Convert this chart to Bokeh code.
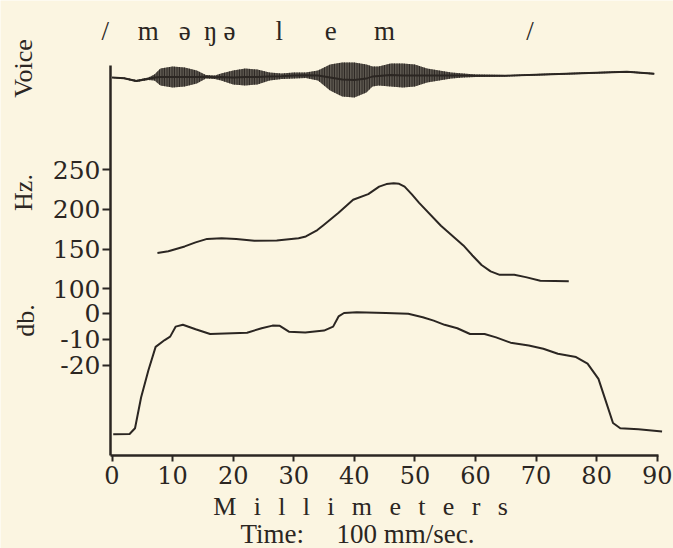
import math
from bokeh.plotting import figure
from bokeh.models import Range1d, LinearAxis, FixedTicker, ColumnDataSource
from bokeh.core.properties import value
from bokeh.embed import file_html
from bokeh.resources import INLINE

# ---------------- data ----------------
time_ticks = [0, 10, 20, 30, 40, 50, 60, 70, 80, 90]
hz_ticks = [100, 150, 200, 250]
db_ticks = [0, -10, -20]

phonemes = ["/", "m", "ə", "ŋ", "ə", "l", "e", "m", "/"]
phoneme_mm = [-1.1, 6.0, 12.0, 16.3, 19.4, 27.6, 36.1, 45.0, 69.0]

hz_mm = [7.5, 9.3, 12.0, 13.8, 15.7, 18.1, 20.5, 23.5, 27.2, 30.8, 32.0, 33.9,
         35.0, 37.4, 39.8, 42.3, 44.1, 45.3, 46.5, 47.4, 48.3, 49.5, 50.7, 54.3,
         58.0, 59.5, 61.0, 62.5, 64.0, 66.4, 68.3, 70.7, 75.4]
hz_val = [145.2, 147.3, 153.4, 158.5, 162.9, 163.8, 162.9, 160.5, 160.9, 163.8,
          166.0, 174.0, 180.7, 195.9, 212.3, 219.4, 228.8, 232.0, 233.0, 232.3,
          228.8, 219.0, 208.3, 179.4, 154.7, 142.0, 130.0, 122.0, 117.6, 117.6,
          114.7, 110.2, 109.5]

db_mm = [0.2, 2.9, 3.8, 4.8, 6.0, 7.2, 8.7, 9.6, 10.5, 11.7, 13.8, 16.2, 22.3,
         24.7, 26.5, 27.7, 29.2, 31.9, 35.0, 36.5, 37.4, 38.3, 40.4, 45.2, 48.9,
         51.3, 53.1, 54.9, 57.0, 59.1, 61.5, 63.4, 65.8, 68.8, 71.2, 73.6, 76.6,
         78.5, 80.3, 81.5, 82.7, 83.9, 86.9, 90.8]
db_val = [-46.2, -46.1, -43.9, -32.2, -21.9, -12.9, -10.3, -9.0, -5.2, -4.5,
          -6.2, -8.0, -7.5, -5.8, -4.8, -4.9, -7.1, -7.4, -6.7, -5.2, -1.3, 0.0,
          0.3, 0.0, -0.3, -1.6, -2.9, -4.5, -5.8, -8.0, -8.0, -9.3, -11.3, -12.4,
          -13.6, -15.5, -16.8, -19.3, -25.1, -33.5, -41.9, -43.9, -44.3, -45.1]

voice_mm = [0, 2, 4, 6, 7, 8, 10, 12, 14, 15.5, 17, 18, 20, 22, 24, 26, 28, 30,
            32, 34, 36, 38, 40, 42, 43, 44, 46, 48, 50, 52, 54, 56, 58, 60, 65,
            70, 75, 80, 85, 89.5]
voice_upper = [-0.5, -1, -3.5, -1, 2, 8, 10, 9, 6, 1.5, 1, 3, 6, 8, 7, 4, 3, 4,
               4, 6, 12, 14, 14, 12, 10, 10, 13, 13, 12, 8, 6, 4, 3, 2, 1.5, 2.5,
               3.5, 4.5, 5.5, 3.5]
voice_lower = [-1.5, -2.5, -5.5, -3.5, -4, -9, -11, -10, -7, -2, -2.5, -4, -8,
               -9, -8, -4, -2.5, -2, -1.5, -4, -14, -20, -21, -16, -10, -9, -10,
               -11, -10, -6, -4, -2, -1, -0.5, 0, 1, 2, 3, 4, 2]

# ---------------- layout / styling ----------------
W, H = 673, 548
AXIS_X_PX, AXIS_Y_PX, AXIS_TOP_PX = 110, 455, 65
X0_PX, PX_PER_MM = 111.5, 6.058
HZ_REF, HZ_REF_PX, PX_PER_HZ = 250, 169.3, 0.7933
DB0_PX, PX_PER_DB = 312.5, 2.625
VOICE0_PX = 76.0

INK = "#2b2622"
PAPER = "#fbf5e1"
SERIF = "Liberation Serif"
NUM_FONT = "DejaVu Serif"

def mm_at(px):
    return (px - X0_PX) / PX_PER_MM

def hz_at(py):
    return HZ_REF - (py - HZ_REF_PX) / PX_PER_HZ

def db_at(py):
    return -(py - DB0_PX) / PX_PER_DB

def voice_at(py):
    return VOICE0_PX - py

x_range = Range1d(mm_at(0), mm_at(W))
y_range = Range1d(hz_at(H), hz_at(0))

p = figure(width=W, height=H, x_range=x_range, y_range=y_range,
           output_backend="svg", toolbar_location=None,
           x_axis_type=None, y_axis_type=None,
           min_border_left=0, min_border_right=0,
           min_border_top=0, min_border_bottom=0)
p.background_fill_color = PAPER
p.border_fill_color = PAPER
p.outline_line_color = None

p.extra_y_ranges = {
    "db": Range1d(db_at(H), db_at(0)),
    "voice": Range1d(voice_at(H), voice_at(0)),
}

def db_to_hz(d):
    r = p.extra_y_ranges["db"]
    return round(y_range.start + (d - r.start) / (r.end - r.start) * (y_range.end - y_range.start), 4)

# ---------------- axes ----------------
xaxis = LinearAxis(ticker=FixedTicker(ticks=time_ticks, minor_ticks=[]),
                   bounds=(mm_at(AXIS_X_PX), 90.25),
                   fixed_location=hz_at(AXIS_Y_PX))
xaxis.axis_line_width = 2.5
xaxis.axis_line_color = INK
xaxis.major_tick_line_color = INK
xaxis.major_tick_line_width = 2
xaxis.major_tick_out = 6
xaxis.major_tick_in = 0
xaxis.major_label_standoff = 4
xaxis.major_label_text_font = NUM_FONT
xaxis.major_label_text_font_size = "24px"
xaxis.major_label_text_color = INK
p.add_layout(xaxis, "below")

db_pos = [db_to_hz(d) for d in db_ticks]
overrides = {float(t): str(t) for t in hz_ticks}
overrides.update({pos: str(d) for pos, d in zip(db_pos, db_ticks)})
yaxis = LinearAxis(ticker=FixedTicker(ticks=[float(t) for t in hz_ticks] + db_pos, minor_ticks=[]),
                   bounds=(hz_at(AXIS_Y_PX), hz_at(AXIS_TOP_PX)),
                   fixed_location=mm_at(AXIS_X_PX))
yaxis.major_label_overrides = overrides
yaxis.axis_line_width = 2.5
yaxis.axis_line_color = INK
yaxis.major_tick_line_color = INK
yaxis.major_tick_line_width = 2
yaxis.major_tick_out = 8
yaxis.major_tick_in = 0
yaxis.major_label_standoff = 2
yaxis.major_label_text_font = NUM_FONT
yaxis.major_label_text_font_size = "25px"
yaxis.major_label_text_color = INK
p.add_layout(yaxis, "left")

# ---------------- traces ----------------
vsrc = ColumnDataSource(dict(x=voice_mm, lo=voice_lower, hi=voice_upper,
                             mid=[(a + b) / 2 for a, b in zip(voice_lower, voice_upper)]))
p.varea(x="x", y1="lo", y2="hi", source=vsrc, y_range_name="voice",
        fill_color=INK, fill_alpha=0.75, hatch_pattern="|", hatch_color=INK,
        hatch_scale=2.5, hatch_weight=1.5, hatch_alpha=1.0)
p.line(x="x", y="mid", source=vsrc, y_range_name="voice", line_color=INK, line_width=1.8)

p.line(hz_mm, hz_val, line_color=INK, line_width=2.0, line_join="round")
p.line(db_mm, db_val, y_range_name="db", line_color=INK, line_width=2.0, line_join="round")

# phonetic transcription
tsrc = ColumnDataSource(dict(x=phoneme_mm, y=[hz_at(30)] * len(phonemes), t=phonemes))
p.text(x="x", y="y", text="t", source=tsrc, text_font=value(SERIF),
       text_font_size="27px", text_color=INK, text_align="center",
       text_baseline="middle")

# ---------------- text labels ----------------
lab_text = ["Voice", "Hz.", "db."]
lab_px = [23, 23, 25]
lab_py = [68, 192, 320]
lsrc = ColumnDataSource(dict(x=[mm_at(v) for v in lab_px], y=[hz_at(v) for v in lab_py],
                             t=lab_text))
p.text(x="x", y="y", text="t", angle=math.pi / 2, source=lsrc, text_font=value(SERIF),
       text_font_size="26px", text_color=INK, text_align="center",
       text_baseline="middle")

spc = "\u2002\u2006"
bot_text = [spc.join("Millimeters"), "Time:\u2003\u2009100\u2005mm/sec."]
bot_px = [360, 357]
bot_py = [506, 533]
bot_size = ["26px", "27px"]
bsrc = ColumnDataSource(dict(x=[mm_at(v) for v in bot_px], y=[hz_at(v) for v in bot_py],
                             t=bot_text, s=bot_size))
p.text(x="x", y="y", text="t", source=bsrc, text_font=value(SERIF),
       text_font_size="s", text_color=INK, text_align="center",
       text_baseline="middle")

open("out.html", "w").write(file_html(p, INLINE))
